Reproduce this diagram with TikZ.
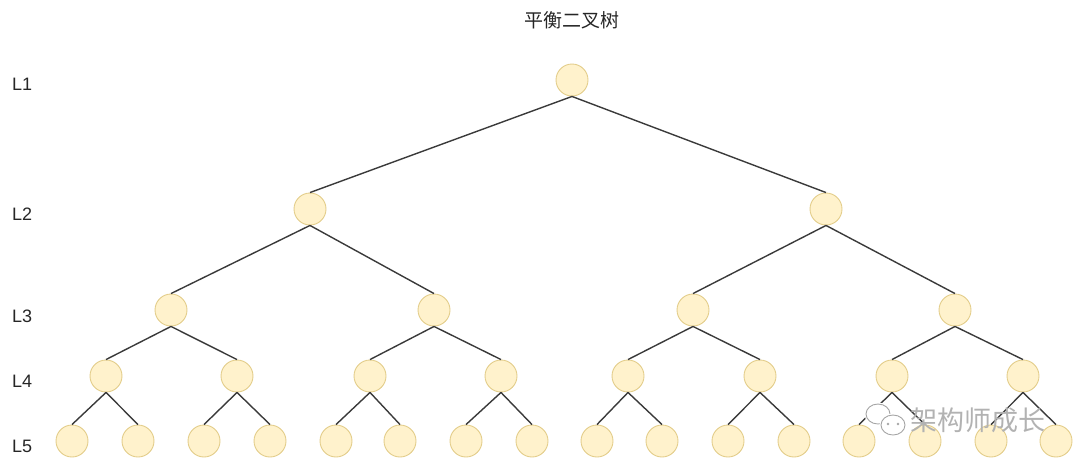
\documentclass[tikz,border=0pt]{standalone}
\usepackage{fontspec}
\setmainfont{Liberation Sans}
\newfontfamily\cjk{Noto Sans CJK SC}
\begin{document}
\begin{tikzpicture}[x=1pt,y=-1pt,
  tn/.style={circle,draw=ttborder,fill=ttfill,line width=0.9pt,minimum size=32pt,inner sep=0pt},
  edge/.style={draw=edgec,line width=1.4pt},
  lvl/.style={font=\fontsize{18}{20}\selectfont,text=black!85,anchor=west,inner sep=0pt},
  ]
\definecolor{ttfill}{HTML}{FFF2CC}
\definecolor{ttborder}{HTML}{E3CD8A}
\definecolor{edgec}{HTML}{3A3A3A}
\useasboundingbox (0,0) rectangle (1080,466);
\node[font=\cjk\fontsize{19}{21}\selectfont,text=black!85] (title) at (572,20) {平衡二叉树};
\node[lvl] (l1) at (12,84) {L1};
\node[lvl] (l2) at (12,214) {L2};
\node[lvl] (l3) at (12,316) {L3};
\node[lvl] (l4) at (12,381) {L4};
\node[lvl] (l5) at (12,446) {L5};
% nodes
\node[tn] (a) at (572,80) {};
\node[tn] (b1) at (310,209) {};
\node[tn] (b2) at (826,209) {};
\foreach \i/\x in {1/171,2/434,3/693,4/955} \node[tn] (c\i) at (\x,310) {};
\foreach \i/\x in {1/106,2/237,3/370,4/501,5/628,6/760,7/892,8/1023} \node[tn] (d\i) at (\x,376) {};
\foreach \i/\x in {1/72,2/138,3/204,4/270,5/336,6/400,7/466,8/532,9/597,10/662,11/728,12/794,13/859,14/925,15/991,16/1056} \node[tn] (e\i) at (\x,441) {};
% edges
\draw[edge] (a.south) -- (b1.north);
\draw[edge] (a.south) -- (b2.north);
\draw[edge] (b1.south) -- (c1.north);
\draw[edge] (b1.south) -- (c2.north);
\draw[edge] (b2.south) -- (c3.north);
\draw[edge] (b2.south) -- (c4.north);
\foreach \p/\l/\r in {1/1/2,2/3/4,3/5/6,4/7/8} {
  \draw[edge] (c\p.south) -- (d\l.north);
  \draw[edge] (c\p.south) -- (d\r.north);
}
\foreach \p/\l/\r in {1/1/2,2/3/4,3/5/6,4/7/8,5/9/10,6/11/12,7/13/14,8/15/16} {
  \draw[edge] (d\p.south) -- (e\l.north);
  \draw[edge] (d\p.south) -- (e\r.north);
}
% watermark
\draw[white,line width=3pt,fill=white] (878,414) ellipse (12pt and 10pt);
\draw[black!35,line width=0.9pt,fill=white] (878,414) ellipse (12pt and 10pt);
\draw[white,line width=3pt,fill=white] (893,425) ellipse (12pt and 10pt);
\draw[black!35,line width=0.9pt,fill=white] (893,425) ellipse (12pt and 10pt);
\fill[black!35] (888,424) circle (1.4pt) (898,424) circle (1.4pt);
\node[font=\cjk\fontsize{27}{29}\selectfont,text=black!30,anchor=west,inner sep=0pt] (wm) at (910,420) {架构师成长};
\end{tikzpicture}
\end{document}
